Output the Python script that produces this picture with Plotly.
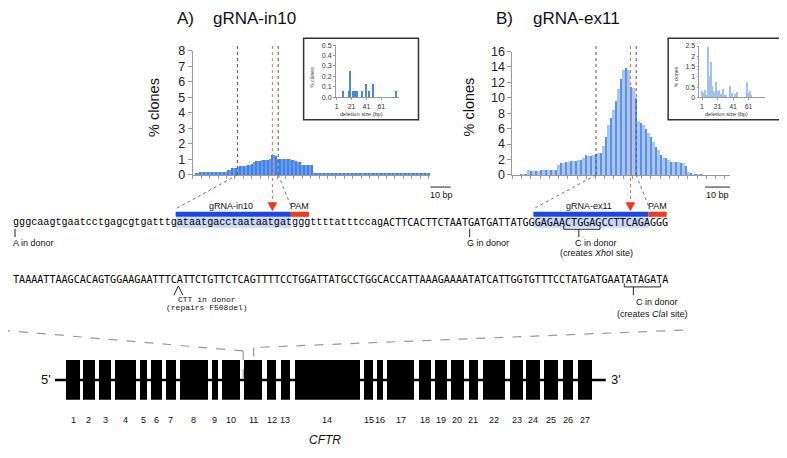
import plotly.graph_objects as go

W, H = 787, 458
OFF = 8  # page body margin in which the figure is placed

# ---------------- data ----------------
# Panel A: % clones per position (gRNA-in10)
a_pct = [0.15, 0.16, 0.17, 0.17, 0.17, 0.17, 0.17, 0.17, 0.17, 0.17, 0.17, 0.17, 0.17, 0.17, 0.17, 0.18,
         0.30, 0.34,
         0.46, 0.48, 0.48, 0.50,
         0.56, 0.58, 0.58, 0.60,
         0.68, 0.68, 0.70,
         0.86, 0.88, 0.88, 0.90,
         1.00, 1.00, 1.00, 1.00, 1.02,
         1.32, 1.28,
         1.20,
         1.05, 1.04, 1.04, 1.04, 1.04, 1.04, 1.02,
         0.96, 0.95, 0.94,
         0.86, 0.84,
         0.66, 0.66, 0.66, 0.66, 0.66, 0.66,
         0.13, 0.13, 0.13, 0.13, 0.13, 0.13, 0.13, 0.13, 0.13, 0.13,
         0.13, 0.13, 0.13, 0.13, 0.13, 0.13, 0.13, 0.13, 0.13, 0.13,
         0.13, 0.13, 0.13, 0.15, 0.15, 0.15, 0.14, 0.14, 0.14, 0.14,
         0.14, 0.14, 0.14, 0.14, 0.14, 0.14, 0.14, 0.14, 0.14, 0.14,
         0.14, 0.14, 0.14, 0.14, 0.14, 0.14, 0.14, 0.14, 0.14, 0.14,
         0.14, 0.14, 0.14, 0.14, 0.14, 0.14, 0.14, 0.13]
a_pos = list(range(1, len(a_pct) + 1))

# Panel B: % clones per position (gRNA-ex11)
b_pct = [0.2, 0.2, 0.2, 0.75, 0.6, 0.6, 0.6, 0.6, 0.75, 0.75,
         0.75, 0.75, 0.75, 0.75, 0.75, 1.3, 1.6, 1.6, 1.75, 1.75,
         1.9, 1.9, 1.9, 2.0, 2.0, 2.3, 2.7, 2.5, 2.5, 2.6,
         2.8, 2.9, 2.9, 3.8, 5.0, 6.6, 7.5, 8.5, 9.6, 11.2,
         12.5, 13.7, 13.9, 13.7, 11.5, 11.3, 10.0, 7.0, 6.8, 6.6,
         6.0, 5.5, 5.0, 4.3, 3.7, 3.3, 2.6, 2.3, 2.2, 2.0,
         1.75, 1.75, 1.75, 1.75, 1.6, 1.6, 1.2, 0.4, 0.3, 0.15,
         0.15, 0.1, 0.1, 0.05]
b_pos = list(range(1, len(b_pct) + 1))

# [gRNA start boundary, cut site, PAM boundary] in position units
a_marks = [21.75, 39.2, 42.1]
b_marks = [30.8, 44.6, 46.9]

# Insets: deletion size distribution
a_del_size = [9, 10, 18, 19, 23, 24, 25, 26, 28, 35, 40, 44, 50, 80]
a_del_pct = [0.065, 0.065, 0.065, 0.25, 0.065, 0.065, 0.065, 0.065, 0.065, 0.065, 0.125, 0.065, 0.125, 0.065]
b_del_size = [2, 3, 5, 7, 9, 11, 13, 14, 16, 18, 20, 22, 24, 26, 28, 31, 33, 38, 40, 44, 47, 59, 61, 63, 65]
b_del_pct = [0.3, 0.2, 0.35, 0.1, 2.45, 1.05, 1.7, 0.55, 0.3, 0.2, 0.75, 0.3, 0.35, 0.15, 0.4, 0.1, 0.1,
             0.55, 0.2, 0.15, 0.25, 0.75, 0.2, 0.3, 0.1]

# CFTR exons (gene-diagram coordinates)
exon_names = [str(i) for i in range(1, 28)]
exon_start = [65.3, 81.9, 98.0, 114.6, 139.2, 149.7, 164.8, 178.9, 211.1, 221.1, 243.7, 266.3, 279.9, 294.0,
              363.8, 376.9, 386.9, 418.1, 434.2, 450.8, 468.3, 482.4, 510.1, 526.1, 543.7, 562.8, 577.9]
exon_end = [78.9, 94.0, 110.6, 134.7, 145.7, 160.8, 174.9, 207.0, 217.1, 239.2, 261.3, 275.4, 288.9, 359.3,
            372.4, 382.9, 413.1, 430.2, 446.2, 463.3, 477.4, 505.0, 522.6, 539.2, 557.8, 572.9, 591.5]
gene_span = [54, 605.5]
zoom_window = [242.5, 253.0]

# sequences
seq1_lower = "gggcaagtgaatcctgagcgtgatttgataatgacctaataatgatgggttttatttccag"
seq1_upper = "ACTTCACTTCTAATGATGATTATGGGAGAACTGGAGCCTTCAGAGGG"
seq2 = "TAAAATTAAGCACAGTGGAAGAATTTCATTCTGTTCTCAGTTTTCCTGGATTATGCCTGGCACCATTAAAGAAAATATCATTGGTGTTTCCTATGATGAATATAGATA"
grna_a = (27, 46)
pam_a = (46, 49)
grna_b = (86, 105)
pam_b = (105, 108)
donor_a_idx = 0
donor_g_idx = 75
xho_site = (91, 97, 93)
cla_site = (101, 107, 102)
f508_idx = 27.45

# ---------------- helpers ----------------
def PX(p):
    return (p - OFF) / W

def PY(p):
    return 1 - (p - OFF) / H

class Lin:
    def __init__(self, p0, p1, r0, r1):
        self.p0, self.p1, self.r0, self.r1 = p0, p1, r0, r1
    def __call__(self, v):
        return self.p0 + (v - self.r0) / (self.r1 - self.r0) * (self.p1 - self.p0)

AX = Lin(192, 430, -0.5, 118)
BX = Lin(512, 730, -2.7, 84.5)

CW = 6.07
SX0 = 11
def sx(i):
    return SX0 + i * CW

shapes = []
annots = []

def line(x0, y0, x1, y1, color="black", width=1, dash="solid"):
    shapes.append(dict(type="line", xref="paper", yref="paper", x0=PX(x0), y0=PY(y0), x1=PX(x1), y1=PY(y1),
                       line=dict(color=color, width=width, dash=dash)))

def rect(x0, y0, x1, y1, fill, lcolor=None, lw=0, layer="above"):
    shapes.append(dict(type="rect", xref="paper", yref="paper", x0=PX(x0), y0=PY(y0), x1=PX(x1), y1=PY(y1),
                       fillcolor=fill, line=dict(color=lcolor or fill, width=lw), layer=layer))

def text(x, y, s, size=9, family="Liberation Sans", color="#111", xanchor="center", angle=0):
    annots.append(dict(x=PX(x), y=PY(y), xref="paper", yref="paper", text=s, showarrow=False,
                       xanchor=xanchor, yanchor="middle", textangle=angle, borderpad=0,
                       font=dict(size=size, family=family, color=color)))

# ---------------- figure ----------------
fig = go.Figure()

a_colors = ["#3f80ea" if i % 2 == 0 else "#6a9df0" for i in range(len(a_pct))]
b_colors = ["#5a92ea" if i % 2 == 0 else "#a9c6f3" for i in range(len(b_pct))]

fig.add_trace(go.Bar(x=a_pos, y=a_pct, width=1, marker=dict(color=a_colors, line=dict(width=0)),
                     xaxis="x", yaxis="y"))
fig.add_trace(go.Bar(x=b_pos, y=b_pct, width=1, marker=dict(color=b_colors, line=dict(width=0)),
                     xaxis="x2", yaxis="y2"))
fig.add_trace(go.Bar(x=a_del_size, y=a_del_pct, width=1.3, marker=dict(color="#4a86e8", line=dict(width=0)),
                     xaxis="x3", yaxis="y3"))
fig.add_trace(go.Bar(x=b_del_size, y=b_del_pct, width=1.2, marker=dict(color="#9fc1f4", line=dict(width=0)),
                     xaxis="x4", yaxis="y4"))
# gene diagram
fig.add_trace(go.Scatter(x=gene_span, y=[0, 0], mode="lines", line=dict(color="black", width=2.5),
                         xaxis="x5", yaxis="y5", hoverinfo="skip"))
fig.add_trace(go.Bar(y=[0] * len(exon_start), x=[e - s for s, e in zip(exon_start, exon_end)],
                     base=exon_start, orientation="h", width=1, marker=dict(color="black", line=dict(width=0)),
                     xaxis="x5", yaxis="y5"))

gray = "#9a9a9a"
main_x = dict(showline=True, linecolor=gray, linewidth=1, ticks="outside", ticklen=3, tickcolor=gray,
              showticklabels=False, showgrid=False, zeroline=False, tickmode="linear")
main_y = dict(showline=True, linecolor=gray, linewidth=1, ticks="outside", ticklen=4, tickcolor=gray,
              tickfont=dict(size=12.5, family="Liberation Sans", color="#222"), showgrid=False, zeroline=False,
              tickmode="linear", tick0=0)
ins_x = dict(showline=True, linecolor=gray, linewidth=0.8, ticks="outside", ticklen=2, tickcolor=gray,
             tickfont=dict(size=7, family="Liberation Sans", color="#333"), showgrid=False, zeroline=False,
             tickvals=[1, 21, 41, 61])
ins_y = dict(showline=True, linecolor=gray, linewidth=0.8, ticks="outside", ticklen=2, tickcolor=gray,
             tickfont=dict(size=7, family="Liberation Sans", color="#333"), showgrid=False, zeroline=False)

fig.update_layout(
    width=W, height=H, margin=dict(l=0, r=0, t=0, b=0), showlegend=False,
    paper_bgcolor="white", plot_bgcolor="white", bargap=0,
    xaxis=dict(domain=[PX(192), PX(430)], range=[-0.5, 118], anchor="y", tick0=-0.5, dtick=4.2, **main_x),
    yaxis=dict(domain=[PY(173), PY(45)], range=[0, 8], anchor="x", dtick=1, **main_y),
    xaxis2=dict(domain=[PX(512), PX(730)], range=[-2.7, 84.5], anchor="y2", tick0=-2.7, dtick=3.7, **main_x),
    yaxis2=dict(domain=[PY(173), PY(45.7)], range=[0, 16], anchor="x2", dtick=2, **main_y),
    xaxis3=dict(domain=[PX(335.3), PX(398)], range=[0, 84], anchor="y3", **ins_x),
    yaxis3=dict(domain=[PY(93), PY(39)], range=[0, 0.5], anchor="x3",
                tickvals=[0, 0.1, 0.2, 0.3, 0.4, 0.5], ticktext=["0.0", "0.1", "0.2", "0.3", "0.4", "0.5"], **ins_y),
    xaxis4=dict(domain=[PX(699.3), PX(765)], range=[-2.4, 82.2], anchor="y4", **ins_x),
    yaxis4=dict(domain=[PY(93), PY(40)], range=[0, 2.5], anchor="x4",
                tickvals=[0, 0.5, 1, 1.5, 2, 2.5], ticktext=["0", "0.5", "1", "1.5", "2", "2.5"], **ins_y),
    xaxis5=dict(domain=[0, 1], range=[OFF, W + OFF], anchor="y5", visible=False),
    yaxis5=dict(domain=[PY(405), PY(364)], range=[-0.5, 0.5], anchor="x5", visible=False),
)

# titles and labels
text(175, 12, "A)", size=17, xanchor="left")
text(211.5, 12, "gRNA-in10", size=17, xanchor="left")
text(495, 12, "B)", size=17, xanchor="left")
text(531.5, 12, "gRNA-ex11", size=17, xanchor="left")
text(153, 103, "% clones", size=14.5, angle=-90)
text(469, 103, "% clones", size=14.5, angle=-90)

# insets frame and labels
rect(303, 32, 418, 116, "rgba(0,0,0,0)", "#333", 1.5)
rect(668, 32, 784, 116, "rgba(0,0,0,0)", "#333", 1.5)
text(311, 72, "% clones", size=5, angle=-90, color="#333")
text(676, 72, "% clones", size=5, angle=-90, color="#333")
text(361, 110, "deletion size (bp)", size=5.6, color="#333")
text(726, 110, "deletion size (bp)", size=5.6, color="#333")

# cut-site lines linking plots to sequence
def marks(mx, marks_, g0, p0):
    xs = [mx(v) for v in marks_]
    line(xs[0], 40, xs[0], 173, "#555", 1, "dot")
    line(xs[2], 40, xs[2], 173, "#555", 1, "dot")
    line(xs[0], 173, sx(g0), 208, "#777", 1, "dot")
    line(xs[2], 173, sx(p0), 205, "#777", 1, "dot")
    line(xs[1], 40, xs[1], 202, "#ff6644", 1, "dot")
    shapes.append(dict(type="path", xref="paper", yref="paper",
                       path=f"M {PX(xs[1]-4.5)},{PY(201.5)} L {PX(xs[1]+4.5)},{PY(201.5)} L {PX(xs[1])},{PY(210)} Z",
                       fillcolor="#ff3010", line=dict(color="#ff3010", width=0.5)))

marks(AX, a_marks, grna_a[0], pam_a[0])
marks(BX, b_marks, grna_b[0], pam_b[0])

# 10 bp scale bars
line(AX(118), 185.5, AX(128), 185.5, "#222", 1)
text((AX(118) + AX(128)) / 2 + 1, 193.5, "10 bp", size=9)
line(BX(84.5 - 10), 185.5, BX(84.5), 185.5, "#222", 1)
text((BX(74.5) + BX(84.5)) / 2, 193.5, "10 bp", size=9)

# sequence line 1 decorations
for g, p, name in [(grna_a, pam_a, "gRNA-in10"), (grna_b, pam_b, "gRNA-ex11")]:
    rect(sx(g[0]), 216.5, sx(g[1]), 227.5, "#c8d7f5", layer="below")
    rect(sx(g[0]), 211, sx(g[1]), 216.2, "#1e46e6")
    rect(sx(p[0]), 211, sx(p[1]), 216.2, "#f23c1c")
    text((sx(g[0]) + sx(g[1])) / 2 - 2, 205.5, name, size=9)
    text((sx(p[0]) + sx(p[1])) / 2, 205.5, "PAM", size=9)

text(SX0, 222, seq1_lower, size=CW / 0.6, family="Liberation Mono", color="#000", xanchor="left")
text(sx(len(seq1_lower)), 222, seq1_upper, size=CW / 0.602, family="DejaVu Sans Mono", color="#000",
     xanchor="left")
text(SX0, 281, seq2, size=CW / 0.602, family="DejaVu Sans Mono", color="#000", xanchor="left")

# donor annotations, line 1
xa = sx(donor_a_idx + 0.5)
line(xa, 228.5, xa, 237, "#222", 1)
text(SX0, 243, "A in donor", size=9, xanchor="left")
xg = sx(donor_g_idx + 0.5)
line(xg, 228.5, xg, 237, "#222", 1)
text(xg + 18, 243, "G in donor", size=9)
x0, x1, xt = sx(xho_site[0]), sx(xho_site[1]), sx(xho_site[2] + 0.5)
line(x0, 229, x1, 229, "#222", 1)
line(x0, 225.5, x0, 229, "#222", 1)
line(x1, 225.5, x1, 229, "#222", 1)
line(xt, 229, xt, 237, "#222", 1)
text(596, 243, "C in donor", size=9)
text(596.5, 253, "(creates <i>Xho</i>I site)", size=9)

# line 2 annotations
xc = sx(f508_idx)
line(xc - 4.5, 297, xc, 287.5, "#222", 1)
line(xc, 287.5, xc + 4.5, 297, "#222", 1)
text(206.5, 301.7, "CTT in donor", size=8, family="Liberation Mono")
text(206.5, 309.5, "(repairs F508del)", size=8, family="Liberation Mono")
x0, x1, xt = sx(cla_site[0]), sx(cla_site[1]), sx(cla_site[2] + 0.5)
line(x0, 288.5, x1, 288.5, "#222", 1)
line(x0, 285, x0, 288.5, "#222", 1)
line(x1, 285, x1, 288.5, "#222", 1)
line(xt, 288.5, xt, 297, "#222", 1)
text(656.5, 304, "C in donor", size=9)
text(652, 316, "(creates <i>Cla</i>I site)", size=9)

# dashed zoom lines from sequence to exon 11
line(0, 333, zoom_window[0], 354.5, gray, 1.2, "dash")
line(683, 333, zoom_window[1], 351, gray, 1.2, "dash")
shapes.append(dict(type="line", xref="x5", yref="paper", x0=zoom_window[0], x1=zoom_window[0],
                   y0=PY(354.5), y1=PY(384), line=dict(color=gray, width=1.2, dash="dash"), layer="below"))
shapes.append(dict(type="line", xref="x5", yref="paper", x0=zoom_window[1], x1=zoom_window[1],
                   y0=PY(351), y1=PY(384), line=dict(color=gray, width=1.2, dash="dash"), layer="below"))

# gene labels
text(45, 384, "5'", size=13)
text(616, 384, "3'", size=13)
for name, s, e in zip(exon_names, exon_start, exon_end):
    annots.append(dict(x=(s + e) / 2, y=PY(426), xref="x5", yref="paper", text=name, showarrow=False,
                       xanchor="center", yanchor="middle", font=dict(size=9, family="Liberation Sans", color="#111")))
text(324, 446, "<i>CFTR</i>", size=12)

fig.update_layout(shapes=shapes, annotations=annots)
fig.write_html("out.html")
